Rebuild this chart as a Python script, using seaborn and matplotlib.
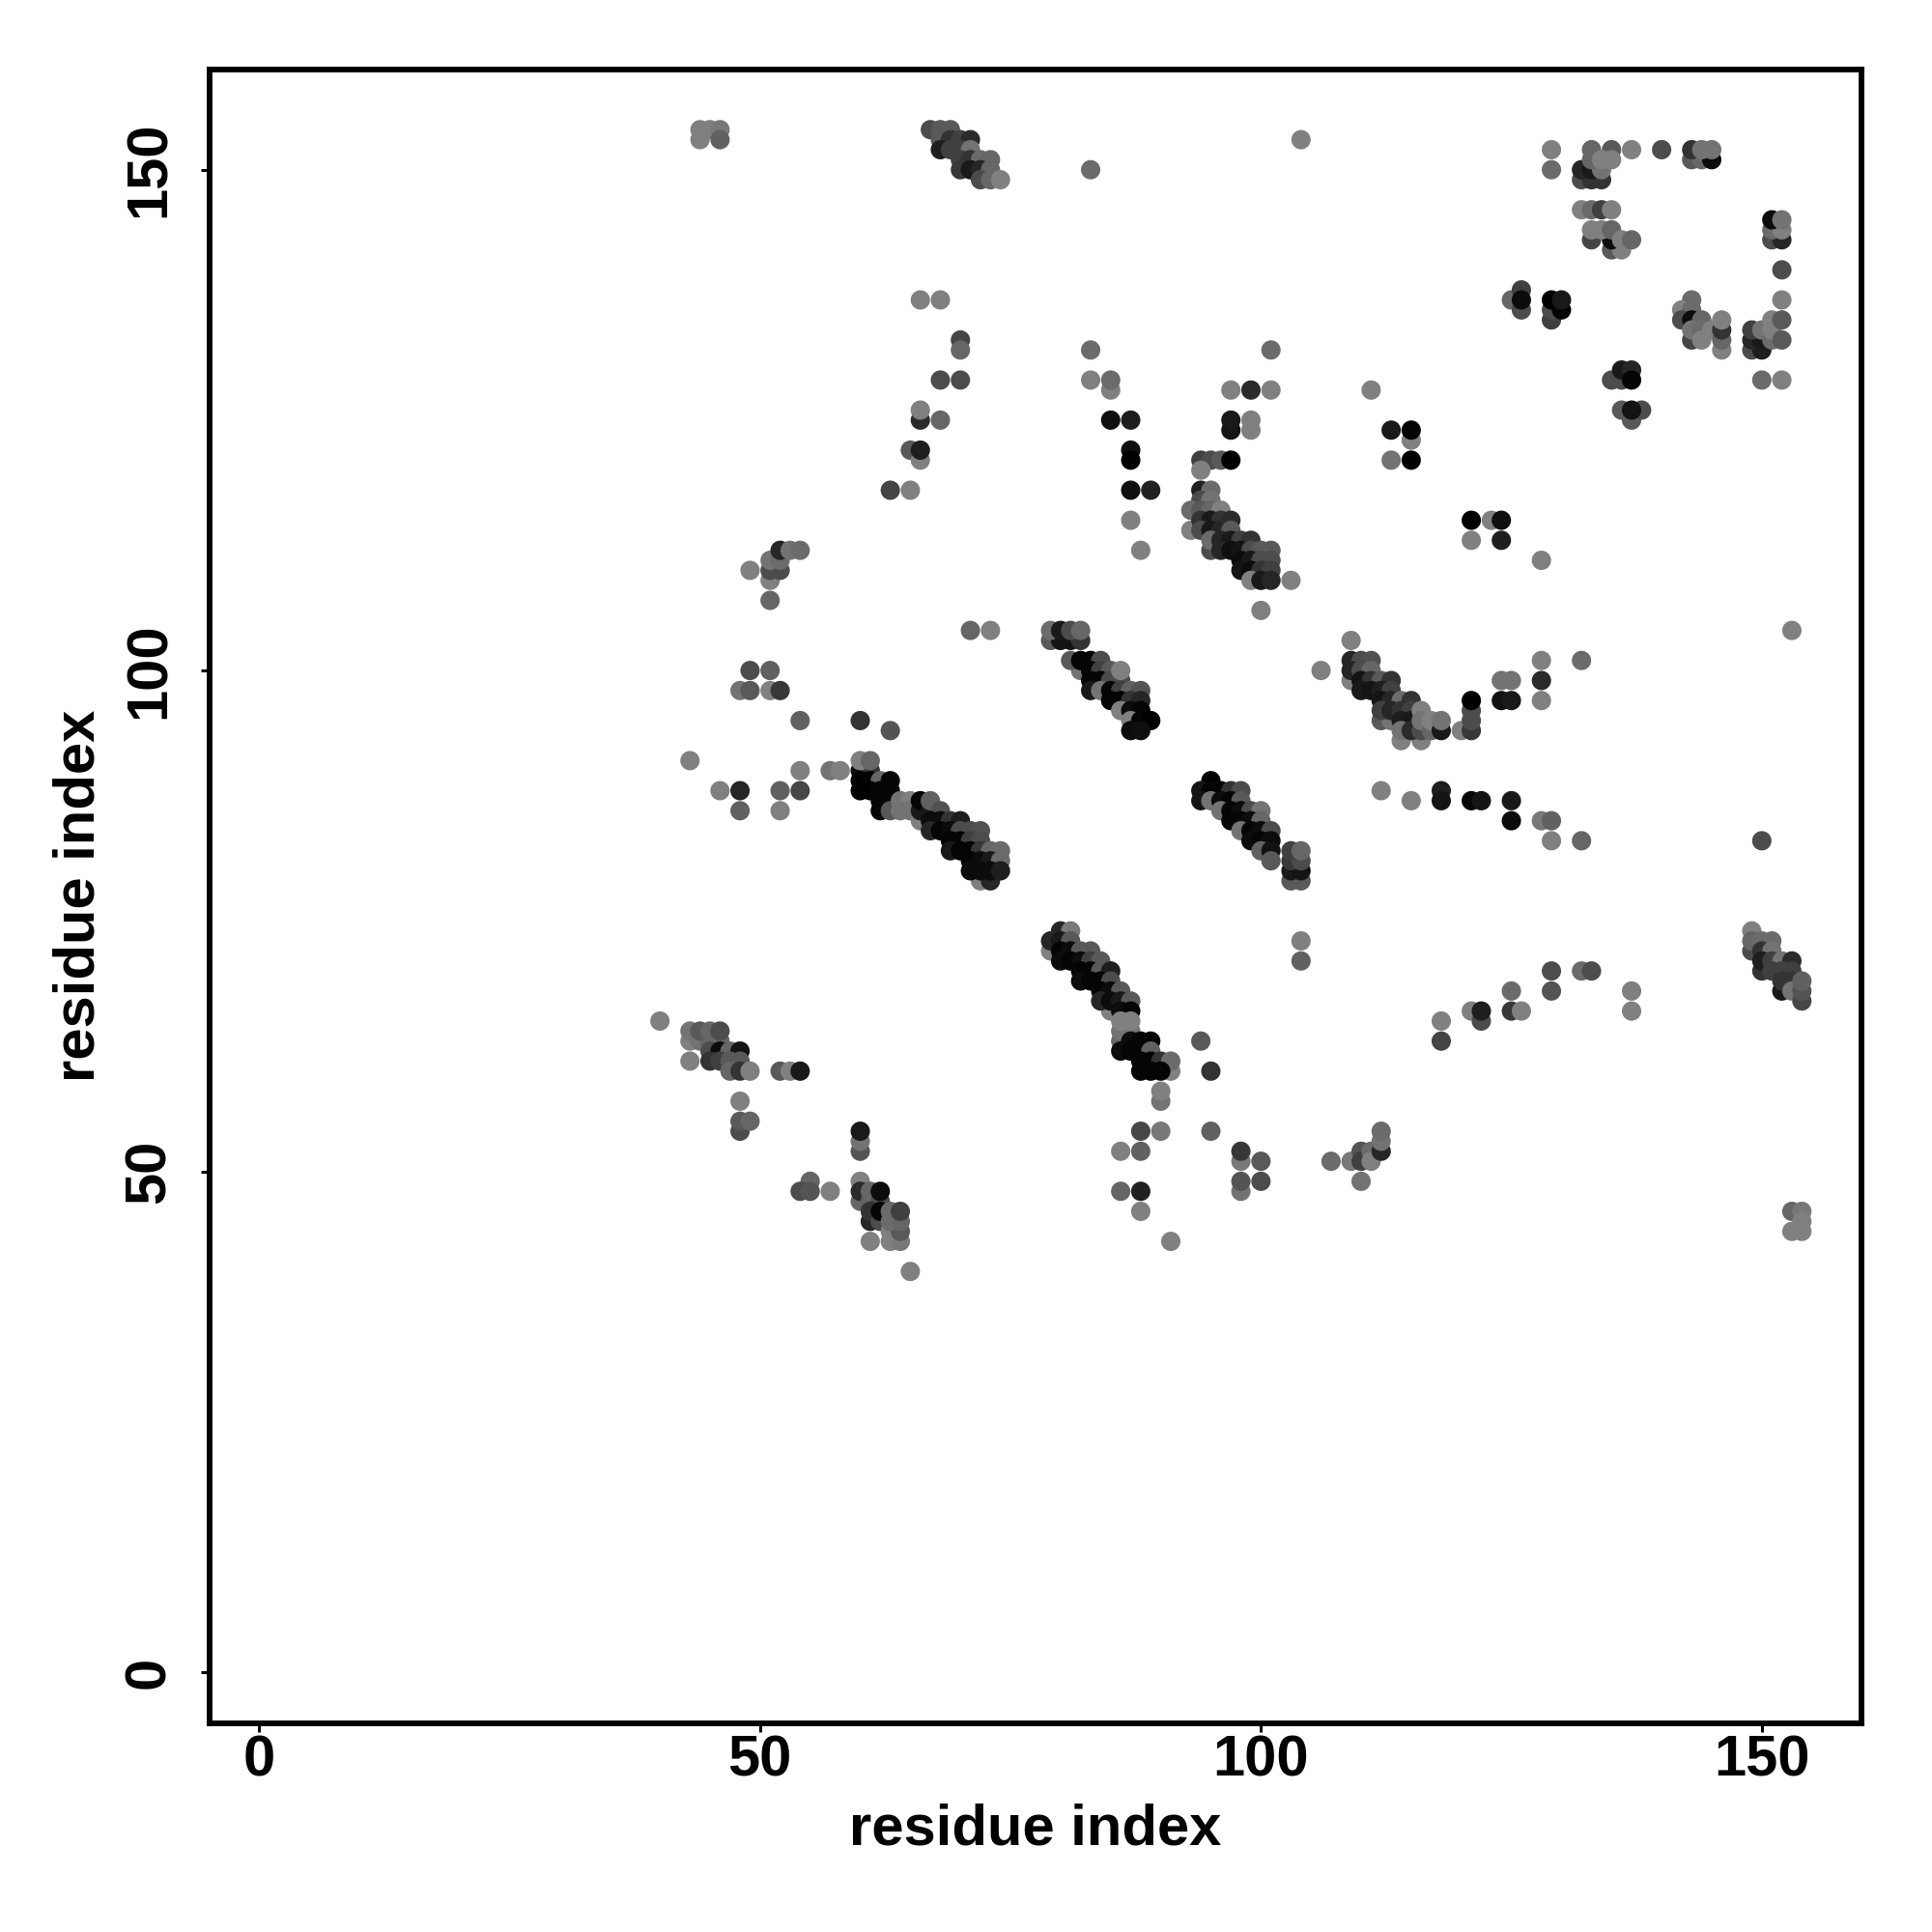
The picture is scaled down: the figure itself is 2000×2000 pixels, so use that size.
import matplotlib
matplotlib.use("Agg")
import matplotlib.pyplot as plt
import pandas as pd
import seaborn as sns

# (residue i, residue j, grey level of the dot)
top_left = [(44,154,.5),(45,154,.5),(46,154,.47),(44,153,.5),(46,153,.38)]
top_helix = [(67,154,.3),(68,154,.35),(69,154,.35),(68,153,.35),(69,153,.2),(70,153,.25),(71,153,.17),
 (68,152,.12),(69,152,.25),(70,152,.25),(71,152,.45),(70,151,.25),(71,151,.2),(72,151,.42),(73,151,.4),
 (70,150,.22),(71,150,.1),(72,150,.15),(73,150,.4),(72,149,.3),(73,149,.4),(74,149,.5)]
upper_mid = [(66,137,.5),(68,137,.5),(70,133,.27),(70,132,.4),(68,129,.3),(70,129,.3),(66,125,.17),(66,126,.5),
 (68,125,.4),(65,122,.35),(66,121,.5),(66,122,.12),(63,118,.27),(65,118,.5)]
upper_left = [(49,110,.5),(51,109,.5),(51,107,.4),(51,110,.3),(52,110,.3),(51,111,.45),(52,111,.42),
 (52,112,.15),(53,112,.45),(54,112,.42)]
singles_top = [(104,153,.5),(83,150,.42),(83,132,.42),(101,132,.42),(83,129,.5),(85,128,.5),(85,129,.42),
 (97,128,.5),(99,128,.17),(101,128,.5),(111,128,.5),(85,125,.06),(87,125,.12),(97,124,.08),(97,125,.1),
 (99,124,.5),(99,125,.5),(87,122,.06),(87,121,.0),(87,118,.06),(89,118,.13),(87,115,.5),(88,112,.5),
 (113,124,.1),(115,123,.5),(115,124,.02),(113,121,.45),(115,121,.0),(121,115,.0),(123,115,.5),(124,115,.06),
 (121,113,.5),(124,113,.12),(128,111,.5),(103,109,.5),(100,106,.5),(153,104,.5)]
far_top = [(129,152,.5),(129,150,.42),(133,152,.4),(135,152,.35),(137,152,.5),(140,152,.3),
 (143,151,.35),(144,151,.4),(145,151,.05),(143,152,.2),(144,152,.45),(145,152,.45),
 (132,149,.3),(133,149,.2),(134,149,.2),(132,150,.15),(133,150,.1),(134,150,.45),
 (133,151,.4),(134,151,.5),(135,151,.5),(132,146,.5),(133,146,.42),(134,146,.25),(135,146,.5),
 (133,143,.27),(135,142,.35),(136,142,.5),(135,143,.05),(133,144,.5),(134,144,.5),(135,144,.4),
 (136,143,.5),(137,143,.4)]
far_right = [(151,143,.3),(152,143,.15),(151,144,.42),(152,144,.5),(151,145,.05),(152,145,.45),
 (152,140,.3),(152,137,.5),(149,132,.3),(150,132,.12),(149,133,.15),(150,133,.1),(149,134,.25),
 (150,134,.45),(151,133,.42),(151,134,.5),(151,135,.5),(152,135,.35),(152,133,.35),(150,129,.42),(152,129,.5)]
mid_far = [(125,137,.4),(126,138,.25),(126,136,.3),(126,137,.05),(129,135,.25),(129,136,.3),(130,136,.02),
 (129,137,.0),(130,137,.1),(143,137,.42),(142,136,.5),(143,136,.42),(142,135,.3),(143,135,.05),
 (143,133,.27),(144,135,.4),(143,134,.45),(144,134,.42),(144,133,.5),(145,134,.5),(146,132,.5),(146,133,.4),
 (146,134,.2),(146,135,.5),(135,129,.3),(136,129,.3),(136,130,.1),(137,130,.15),(137,129,.02),
 (137,125,.35),(136,126,.35),(138,126,.3),(137,126,.08)]
band_94 = [(94,121,.25),(95,121,.3),(96,121,.35),(97,121,.0),(94,120,.5),(94,118,.13),(95,118,.42),
 (94,117,.3),(95,117,.45),(93,116,.42),(94,116,.35),(95,116,.4),(96,116,.5),(93,114,.5),(94,115,.2),(95,115,.1),
 (96,115,.2),(94,114,.3),(95,114,.1),(96,114,.15),(97,115,.17),(97,114,.35),(95,112,.3),(95,113,.42),(96,113,.15),
 (97,113,.1),(98,113,.25),(99,113,.2),(96,112,.15),(97,112,.06),(98,112,.08),(99,112,.3),(100,112,.35),
 (101,112,.35),(98,111,.05),(99,111,.1),(100,111,.3),(101,111,.3),(98,110,.08),(99,110,.05),(100,110,.2),
 (101,110,.25),(99,109,.5),(100,109,.1),(101,109,.15)]
band_79 = [(71,104,.4),(73,104,.5),(79,103,.35),(80,103,.08),(81,103,.08),(82,103,.2),(79,104,.42),(80,104,.1),
 (81,104,.3),(82,104,.4),(82,100,.45),(81,101,.35),(82,101,.02),(83,101,.02),(84,101,.3),(83,100,.02),(84,100,.25),
 (85,100,.35),(83,99,.02),(84,99,.02),(85,99,.3),(86,99,.3),(86,100,.5),(83,98,.1),(84,98,.45),(85,98,.02),(86,98,.25),
 (87,98,.38),(88,98,.33),(85,97,.02),(86,97,.02),(87,97,.2),(88,97,.15),(86,96,.5),(87,96,.05),(88,96,.02),
 (87,95,.5),(88,95,.02),(89,95,.0),(87,94,.05),(88,94,.06)]
left_mid = [(49,100,.3),(51,100,.38),(48,98,.45),(49,98,.35),(51,98,.5),(52,98,.22),(54,95,.38),(60,95,.2),(63,94,.33),
 (43,91,.5),(54,90,.5),(57,90,.45),(58,90,.5),(46,88,.5),(48,88,.15),(52,88,.38),(54,88,.28),(48,86,.38),(52,86,.5)]
band_60 = [(60,90,.05),(61,90,.2),(60,91,.5),(61,91,.4),(60,89,.0),(61,89,.02),(62,89,.4),(63,89,.02),(60,88,.0),
 (61,88,.0),(62,88,.02),(63,88,.02),(62,87,.02),(63,87,.02),(62,86,.02),(63,86,.35),(64,87,.45),(65,87,.5),
 (64,86,.45),(65,86,.45),(66,85,.5),(66,86,.1),(66,87,.02),(67,86,.1),(67,87,.38),(68,86,.32),(67,85,.05),
 (68,85,.05),(69,85,.2),(70,85,.12),(67,84,.15),(68,84,.02),(69,84,.05),(70,84,.3),(71,84,.3),(72,84,.32),
 (69,83,.02),(70,83,.02),(71,83,.25),(72,83,.3),(69,82,.1),(70,82,.02),(71,82,.02),(72,82,.22),(73,82,.4),
 (74,82,.42),(71,81,.02),(72,81,.05),(73,81,.1),(74,81,.42),(72,79,.5),(73,79,.15),(71,80,.05),(72,80,.05),
 (73,80,.05),(74,80,.12)]
band_109 = [(109,103,.5),(106,100,.5),(109,99,.5),(109,101,.15),(110,101,.3),(111,101,.32),(109,100,.15),(110,100,.3),
 (111,100,.4),(110,99,.08),(111,99,.2),(112,99,.35),(113,99,.2),(110,98,.1),(111,98,.08),(112,98,.12),(113,98,.25),
 (112,97,.08),(113,97,.15),(114,97,.42),(115,97,.2),(112,95,.35),(113,95,.45),(112,96,.25),(113,96,.15),(114,96,.2),
 (115,96,.25),(114,93,.5),(116,93,.5),(114,95,.12),(115,95,.1),(114,94,.45),(115,94,.17),(116,94,.3),(116,96,.5),
 (116,95,.45),(117,94,.4),(117,95,.5),(118,94,.1),(118,95,.45)]
right_mid = [(120,94,.5),(121,94,.22),(121,95,.3),(121,96,.3),(121,97,.0),(124,99,.45),(125,99,.45),(124,97,.07),(125,97,.1),
 (128,101,.5),(128,99,.17),(128,97,.5),(132,101,.42),(112,88,.5),(118,88,.12),(115,87,.5),(118,87,.08),(121,87,.02),
 (122,87,.08),(125,87,.1),(125,85,.05),(128,85,.47),(129,85,.38),(129,83,.5),(132,83,.4),(150,83,.3)]
band_94_low = [(95,89,.0),(94,88,.08),(95,88,.02),(96,88,.02),(97,88,.2),(98,88,.3),(94,87,.08),(95,87,.45),(96,87,.05),
 (97,87,.02),(98,87,.35),(96,86,.45),(97,86,.02),(98,86,.05),(99,86,.3),(100,86,.45),(97,85,.02),(98,85,.02),(99,85,.05),
 (100,85,.4),(98,84,.45),(99,84,.02),(100,84,.05),(101,84,.3),(99,83,.05),(100,83,.02),(101,83,.05),(100,82,.38),
 (101,82,.07),(101,81,.35),(103,79,.35),(104,79,.35),(103,80,.1),(104,80,.08),(103,81,.22),(104,81,.3),(103,82,.25),(104,82,.4)]
band_79_low = [(79,72,.5),(80,74,.15),(81,74,.47),(79,73,.15),(80,73,.1),(81,73,.35),(80,72,.02),(81,72,.05),(82,72,.35),(83,72,.35),
 (80,71,.05),(81,71,.02),(82,71,.05),(83,71,.25),(84,71,.35),(82,70,.02),(83,70,.02),(84,70,.35),(85,70,.12),(82,69,.05),(83,69,.02),
 (84,69,.02),(85,69,.3),(84,68,.02),(85,68,.05),(86,68,.35),(85,66,.5),(84,67,.15),(85,67,.05),(86,67,.1),(87,67,.35),(86,66,.05),(87,66,.02),
 (86,63,.4),(86,62,.05),(86,64,.45),(87,64,.45),(86,65,.5),(87,65,.5),(87,63,.05),(87,62,.02),(88,63,.02),(89,63,.02),(88,62,.02),(89,62,.38),
 (88,61,.02),(89,61,.02),(90,61,.2),(91,60,.5),(91,61,.42),(88,60,.02),(89,60,.02),(90,60,.02),(94,63,.35),(95,60,.2)]
lower_left = [(40,65,.5),(43,63,.5),(44,63,.45),(45,63,.4),(46,63,.4),(43,64,.45),(44,64,.35),(45,64,.4),(46,64,.3),(45,62,.3),(46,62,.05),
 (47,62,.4),(48,62,.08),(43,61,.5),(45,61,.2),(46,61,.25),(47,61,.35),(48,61,.35),(47,60,.4),(48,60,.2),(49,60,.5),(52,60,.35),(53,60,.5),
 (54,60,.1),(48,57,.5),(48,54,.3),(48,55,.35),(49,55,.4),(60,52,.33),(60,53,.45),(60,54,.1)]
lower_mid = [(55,49,.4),(54,48,.3),(55,48,.33),(57,48,.5),(60,47,.4),(60,49,.5),(60,48,.17),(61,47,.38),(61,48,.4),(62,47,.3),(62,48,.05),
 (61,45,.15),(61,46,.2),(62,45,.3),(62,46,.02),(61,43,.5),(63,43,.5),(64,43,.47),(63,44,.5),(64,44,.35),(63,45,.42),(64,45,.4),(63,46,.42),
 (64,46,.25),(65,40,.5)]
lower_center = [(88,54,.28),(90,54,.47),(95,54,.38),(86,52,.5),(88,52,.38),(86,48,.4),(88,48,.13),(88,46,.5),(91,43,.5),(90,57,.45),(90,58,.5),
 (98,51,.47),(98,52,.22),(100,51,.35),(98,48,.45),(98,49,.33),(100,49,.3),(107,51,.42),(109,51,.47),(110,52,.33),(110,51,.25),(111,52,.42),
 (111,51,.5),(112,52,.15),(112,53,.45),(112,54,.42),(110,49,.45)]
lower_right = [(104,73,.5),(104,71,.38),(118,65,.5),(118,63,.27),(121,66,.5),(122,65,.3),(122,66,.12),(125,66,.22),(126,66,.5),(125,68,.42),
 (129,68,.33),(129,70,.3),(132,70,.42),(133,70,.3),(137,68,.5),(137,66,.5),(153,46,.4),(154,46,.47),(154,45,.5),(153,44,.5),(154,44,.5)]
corner_band = [(149,74,.5),(149,72,.3),(149,73,.4),(150,73,.42),(151,73,.42),(150,72,.2),(151,72,.45),(150,70,.2),(150,71,.12),(151,71,.25),
 (152,71,.45),(153,71,.17),(151,70,.25),(152,68,.1),(152,70,.25),(153,70,.25),(152,69,.2),(153,69,.2),(153,68,.45),(154,67,.28),(154,68,.33),(154,69,.38)]

tick_values = [0, 50, 100, 150]
axis_title = "residue index"

regions = [top_left, top_helix, upper_mid, upper_left, singles_top, far_top, far_right, mid_far, band_94, band_79,
           left_mid, band_60, band_109, right_mid, band_94_low, band_79_low, lower_left, lower_mid, lower_center,
           lower_right, corner_band]
df = pd.DataFrame([p for r in regions for p in r], columns=["i", "j", "grey"])

sns.set_theme(style="white")
plt.rcParams["font.family"] = ["Liberation Sans", "DejaVu Sans"]
plt.rcParams["font.weight"] = "bold"

fig = plt.figure(figsize=(10, 10), dpi=200)
ax = fig.add_axes([217/2000, 1-1784/2000, (1927-217)/2000, (1784-72)/2000])
sns.scatterplot(data=df, x="i", y="j", hue="grey", palette="gray", hue_norm=(0, 1),
                s=52, linewidth=0, legend=False, ax=ax)
ax.set_xlim(-4.95, 159.95)
ax.set_ylim(-5.12, 160.0)
ax.set_xticks(tick_values)
ax.set_yticks(tick_values)
ax.set_xticklabels([str(v) for v in tick_values], fontsize=21.5, fontweight="bold", color="black")
ax.set_yticklabels([str(v) for v in tick_values], fontsize=21.5, fontweight="bold", color="black",
                   rotation=90, va="center")
ax.tick_params(axis="both", length=3.2, width=1.1, color="black", bottom=True, left=True)
ax.tick_params(axis="x", pad=1.1)
ax.tick_params(axis="y", pad=9.2)
ax.set_xlabel(axis_title, fontsize=21.5, fontweight="bold", color="black")
ax.set_ylabel(axis_title, fontsize=21.5, fontweight="bold", color="black")
ax.xaxis.set_label_coords((1072-217)/1710, -(1894-1784)/1712)
ax.yaxis.set_label_coords(-(217-82)/1710, (1784-927)/1712)
ax.xaxis.get_label().set_va("center")
ax.yaxis.get_label().set_va("center")
for s in ax.spines.values():
    s.set_linewidth(2.1)
    s.set_color("black")
fig.savefig("out.png", dpi=200, facecolor="white")
